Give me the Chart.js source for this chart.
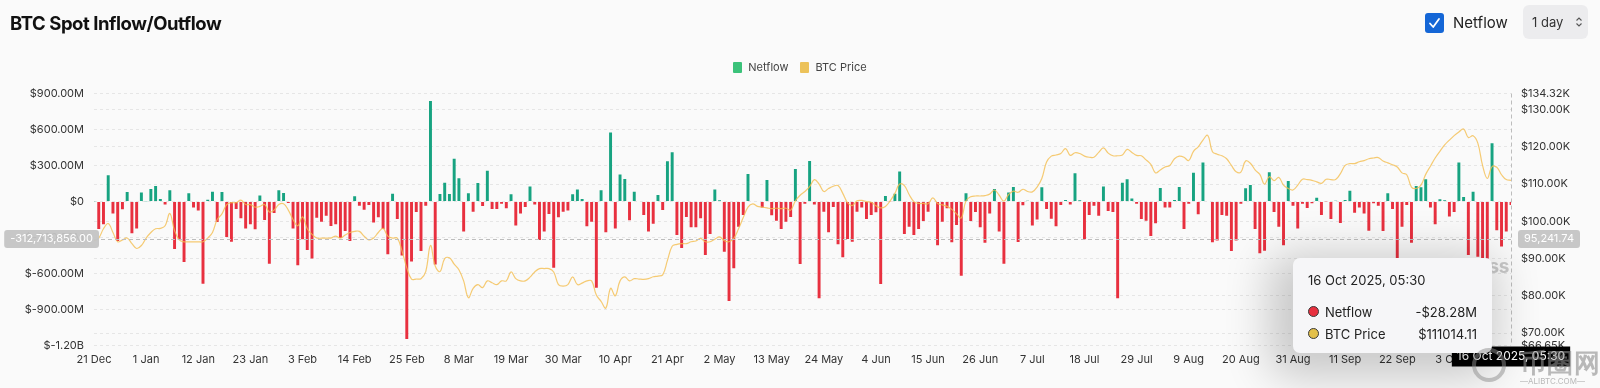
<!DOCTYPE html>
<html><head><meta charset="utf-8">
<script src="https://cdn.jsdelivr.net/npm/chart.js@4.4.1/dist/chart.umd.min.js"></script>
<style>
html,body{margin:0;padding:0;background:#fafafa;width:1600px;height:388px;overflow:hidden;font-family:Inter,"Noto Sans",sans-serif;}
#wrap{position:relative;width:1600px;height:388px;}
#c{position:absolute;left:0;top:0;}
.title{position:absolute;left:10px;top:12px;font-size:18.5px;font-weight:700;color:#111;letter-spacing:-0.45px;}
.chk{position:absolute;left:1425px;top:13px;width:19px;height:20px;background:#1466d6;border-radius:3px;}
.chkl{position:absolute;left:1453px;top:13px;font-size:15px;color:#222;line-height:20px;}
.sel{position:absolute;left:1523px;top:5px;width:65px;height:34px;background:#ececee;border-radius:6px;font-size:13px;color:#333;}
.sel span{position:absolute;left:9px;top:9px;}
.sel svg{position:absolute;left:52px;top:11px;}
.legend{position:absolute;top:60px;left:0;width:1600px;text-align:center;font-size:11px;color:#444;}
.legend .it{display:inline-flex;align-items:center;margin:0 6px;}
.legend .sw{display:inline-block;width:9px;height:11px;border-radius:1px;margin-right:6px;}
.wm{position:absolute;left:1424px;top:255px;font-size:19px;font-weight:700;color:#c9c9c9;letter-spacing:-0.5px;}
.tip{position:absolute;display:none;width:199px;height:95px;box-sizing:border-box;background:#f6f6f8;border-radius:7px;
 box-shadow:-10px 10px 45px 14px rgba(0,0,0,0.20);padding:14px 15px 0 15px;color:#222;}
.tip .t{font-size:13px;margin-bottom:13px;}
.tip .r{display:flex;align-items:center;font-size:13px;height:22px;}
.tip .d{width:9px;height:9px;border-radius:50%;border:1.5px solid #3a3a3a;margin-right:6px;}
.tip .v{margin-left:auto;}
.ali{position:absolute;left:1468px;top:346px;color:rgba(140,140,140,0.6);}
.ali .big{font-size:26px;font-weight:700;position:absolute;left:52px;top:0;white-space:nowrap;letter-spacing:1px;}
.ali .small{font-size:8px;position:absolute;left:52px;top:30px;white-space:nowrap;}
.ali .ring{position:absolute;left:4px;top:2px;width:34px;height:34px;border-radius:50%;border:4px solid rgba(140,140,140,0.5);box-sizing:border-box;}
</style></head>
<body><div id="wrap">
<canvas id="c" width="1600" height="388"></canvas>
<div class="title">BTC Spot Inflow/Outflow</div>
<div class="chk"><svg width="19" height="20" viewBox="0 0 19 20"><path d="M5 10.5 L8.2 14 L14 6" stroke="#fff" stroke-width="1.8" fill="none" stroke-linecap="round" stroke-linejoin="round"/></svg></div>
<div class="chkl">Netflow</div>
<div class="sel"><span>1 day</span><svg width="8" height="12" viewBox="0 0 8 12"><path d="M1.5 4.5 L4 2 L6.5 4.5 M1.5 7.5 L4 10 L6.5 7.5" stroke="#555" stroke-width="1.1" fill="none"/></svg></div>
<div class="legend"><span class="it"><span class="sw" style="background:#3bc27a"></span>Netflow</span><span class="it"><span class="sw" style="background:#ecc25a"></span>BTC Price</span></div>
<div class="wm">coinglass</div>
<div class="tip" id="tip"></div>
<div class="ali"><div class="ring"></div><div class="big">币圈网</div><div class="small">—ALIBTC.COM—</div></div>
</div>
<script>
// Daily BTC spot netflow (millions USD), 21 Dec 2024 .. 16 Oct 2025
const netflowM = [
3,-229,-190,218,-99,-329,-65,79,-265,-224,
76,3,104,129,21,-24,93,-396,-321,-504,
68,-49,-74,-686,15,82,-171,79,-296,-335,
-63,-140,-226,-190,-232,49,-154,-518,-96,93,
71,-12,-224,-532,-315,-404,-474,-135,-168,-118,
-204,-190,-304,-246,-329,43,-35,-68,-29,-174,
-132,-229,-440,65,-146,-451,-1146,-501,-88,-413,
-35,838,-524,63,157,63,357,193,-251,68,
-85,154,-38,257,-63,-63,-18,-57,60,-201,
-99,-46,124,-24,-321,-251,-104,-552,-132,-85,
-76,60,101,21,-207,-168,-718,93,-257,574,
-224,224,188,-157,82,-5,-113,-251,-185,54,
-71,335,410,-279,-388,-129,-215,-215,-140,-446,
-271,101,10,-418,-829,-557,-210,-113,229,-4,
-4,-51,179,-115,-160,-229,-168,-129,271,-521,
-18,338,-24,-807,-85,-257,-46,-357,-465,-313,
-335,-85,-51,-146,-113,-90,-688,46,-3,65,
249,-271,-210,-279,-229,-163,-85,-5,-365,-168,
-57,-340,-196,-618,68,-163,-88,-215,-343,-99,
104,-251,-518,74,121,-338,-32,7,-201,-151,
118,-63,-143,-207,-29,12,-24,235,10,-315,
-113,-35,-118,124,-79,-88,-807,157,185,24,
-18,-146,-160,-288,-182,113,-51,-51,12,121,
-229,-18,240,-107,324,4,-340,-324,-113,-118,
-413,-326,-18,110,138,-229,-432,-410,243,-88,
-210,-365,171,-35,-226,-18,-54,-15,32,-113,
-3,-146,7,-179,12,90,-93,-51,-99,-243,
-15,-35,-246,68,-63,-480,-210,-29,-343,129,
118,185,-51,-190,18,10,-126,-88,324,38,
-446,82,-460,-488,-474,485,-240,-376,-251,-28.28
];
// BTC price (thousands USD)
const priceK = [
94.8,95.5,98,99.4,97,94.5,95,95.5,94,92.7,
93.5,95.5,97,98,98.1,98.8,102.1,97.5,95,94.5,
94.5,94.5,94.5,94.5,95.5,97,100.5,102,104.5,105,
105,105.7,104.5,104.5,103.8,104,104.5,102.5,103,104.5,
104.7,103,100.5,98.8,101.2,98,96.5,95.5,95.5,95.5,
95.5,96,95.5,96.3,97,97.3,97.3,96,95,95.5,
97,98.1,96,95.5,95.5,92,87.5,84.5,84.5,84.6,
86.5,93.5,88,86.5,90,90.2,88.5,87,84,79.5,
82,83,82.2,84,83.5,83,84,84,86.4,84.6,
84,84,85,86.4,87.3,87.3,87.3,86.4,83,82.6,
83,85.1,83,83.4,84,84,80.2,78.5,76.7,82,
80,84,85.1,84,84.6,84.5,84.4,84.6,85.1,85.3,
85.6,89.5,93.3,93.8,94,94,94.5,94.7,95.4,94.5,
94.5,95.2,95.8,94.8,94.5,95.4,98,101,103.8,104.7,
104,103.8,103.6,103.4,103.5,103.4,103.5,103,105.5,107,
108,109.3,111.2,110,108,108.8,109.4,109.6,107.5,105,
104.2,105.5,105.6,105.3,105.1,104.2,103.6,104,105.5,107.5,
110,109.6,107.2,105.3,104.8,104.8,104.7,106.3,104.8,104.4,
104,103.2,102,100.9,105.5,106.6,106.8,106.8,106.9,107.3,
108.4,107,105.4,107.2,108.1,107.8,108.6,108,107.9,109.2,
111.5,115.9,117.5,117.8,118.2,119.5,117.7,118.4,118.2,117.5,
117.2,117.2,118.5,119.7,118.3,117.6,117.6,117.8,119.3,118.5,
117.7,117.6,116.5,115.3,113,113.8,114.6,115,116.8,117.5,
117.2,116.3,118.8,120,121.8,123.1,118.7,118,117.6,116.8,
115,113.3,113.2,116.2,115.6,113.8,112.6,110,112,110.9,
111.8,109.7,108.8,108.4,109.7,111.3,111.2,111,110.6,110.2,
111.3,111.2,111.2,112.8,115,115.5,115.5,116,116.3,116.8,
117,117.1,116.2,115.7,115.2,114.6,113,112.5,109.2,108.8,
109.7,112.6,114.8,117,118.8,120.5,121.8,123,124,124.8,
122.5,123,121,115,111.5,114.7,114.5,112.5,111.2,111.01411
];
const leftTicks = [-1.2e9,-9e8,-6e8,-3e8,0,3e8,6e8,9e8];
const rightTicks = [66650,70000,80000,90000,100000,110000,120000,130000,134320];
const crosshairValue = -312713856;
const monthNames = ['Jan','Feb','Mar','Apr','May','Jun','Jul','Aug','Sep','Oct','Nov','Dec'];

// categories: one per day starting 21 Dec 2024
const dates = [];
const categories = [];
{ const d = new Date(Date.UTC(2024,11,21));
  for (let i=0;i<netflowM.length;i++){ dates.push(new Date(d)); categories.push(d.getUTCDate()+' '+monthNames[d.getUTCMonth()]); d.setUTCDate(d.getUTCDate()+1); } }
const fullLabel = i => { const d=dates[i]; return d.getUTCDate()+' '+monthNames[d.getUTCMonth()]+' '+d.getUTCFullYear()+', 05:30'; };

const GREEN='#17a381', RED='#e8303f', GOLD='rgba(244,190,80,0.8)';
const FONT='Inter';
const fmtLeft = v => v===0 ? '$0' : (Math.abs(v)>=1e9 ? '$'+(v/1e9).toFixed(2)+'B' : '$'+(v/1e6).toFixed(2)+'M');
const fmtRight = v => '$'+(v/1000).toFixed(2)+'K';

const crosshair = {
  id:'crosshair',
  afterDraw(chart){
    const {ctx, chartArea:a, scales} = chart;
    const y = scales.y.getPixelForValue(crosshairValue);
    const last = netflowM.length-1;
    const x = scales.x.getPixelForValue(last);
    ctx.save();
    ctx.strokeStyle='#bdbdbd'; ctx.lineWidth=1; ctx.setLineDash([4,3]);
    ctx.beginPath(); ctx.moveTo(a.left,Math.round(y)+0.5); ctx.lineTo(a.right,Math.round(y)+0.5); ctx.stroke();
    ctx.beginPath(); ctx.moveTo(Math.round(x)+0.5,a.top); ctx.lineTo(Math.round(x)+0.5,a.bottom); ctx.stroke();
    ctx.setLineDash([]);
    ctx.font='11px '+FONT; ctx.textBaseline='middle';
    const lt = crosshairValue.toLocaleString('en-US',{minimumFractionDigits:2,maximumFractionDigits:2});
    let w = ctx.measureText(lt).width+12;
    ctx.fillStyle='rgba(196,196,196,0.95)';
    roundRect(ctx, a.left+5-w, y-9, w, 18, 3); ctx.fill();
    ctx.fillStyle='#fff'; ctx.textAlign='right'; ctx.fillText(lt, a.left-1, y);
    const rv = scales.y1.getValueForPixel(y);
    const rt = rv.toLocaleString('en-US',{minimumFractionDigits:2,maximumFractionDigits:2});
    w = ctx.measureText(rt).width+12;
    ctx.fillStyle='rgba(196,196,196,0.95)';
    roundRect(ctx, a.right+7, y-9, w, 18, 3); ctx.fill();
    ctx.fillStyle='#fff'; ctx.textAlign='left'; ctx.fillText(rt, a.right+13, y);
    ctx.font='12px '+FONT;
    const bt = fullLabel(last);
    w = ctx.measureText(bt).width+10;
    ctx.fillStyle='#000';
    ctx.fillRect(x-w/2, a.bottom+1, w, 20);
    ctx.fillStyle='#fff'; ctx.textAlign='center'; ctx.fillText(bt, x, a.bottom+11);
    ctx.restore();
  }
};
function roundRect(ctx,x,y,w,h,r){ctx.beginPath();ctx.moveTo(x+r,y);ctx.arcTo(x+w,y,x+w,y+h,r);ctx.arcTo(x+w,y+h,x,y+h,r);ctx.arcTo(x,y+h,x,y,r);ctx.arcTo(x,y,x+w,y,r);ctx.closePath();}

function externalTip({chart, tooltip}){
  const el = document.getElementById('tip');
  if (!tooltip.dataPoints || !tooltip.dataPoints.length){ el.style.display='none'; return; }
  const i = tooltip.dataPoints[0].dataIndex;
  const nf = netflowM[i]*1e6, pr = priceK[i]*1000;
  const nfTxt = (nf<0?'-$':'$')+(Math.abs(nf)/1e6).toFixed(2)+'M';
  const nfCol = nf<0 ? '#e8303f' : GREEN;
  el.innerHTML = '<div class="t">'+fullLabel(i)+'</div>'+
    '<div class="r"><span class="d" style="background:'+nfCol+'"></span>Netflow<span class="v">'+nfTxt+'</span></div>'+
    '<div class="r"><span class="d" style="background:#e3c04a"></span>BTC Price<span class="v">$'+pr.toFixed(2)+'</span></div>';
  const a = chart.chartArea;
  el.style.display='block';
  el.style.left = (tooltip.caretX - 218)+'px';
  el.style.top = (a.bottom - 88)+'px';
}

const chart = new Chart(document.getElementById('c'), {
  type:'bar',
  data:{
    labels: categories,
    datasets:[
      {label:'Netflow', data: netflowM.map(v=>v*1e6), yAxisID:'y', order:1,
       backgroundColor: c => c.raw>=0 ? GREEN : RED, barPercentage:0.62, categoryPercentage:1},
      {type:'line', label:'BTC Price', data: priceK.map(v=>v*1000), yAxisID:'y1', order:0,
       borderColor: GOLD, borderWidth:1.2, pointRadius:0, tension:0.4, fill:false}
    ]
  },
  options:{
    responsive:false, animation:false, events:[],
    layout:{padding:{top:93.5,left:0,right:0,bottom:0}},
    plugins:{legend:{display:false},
      tooltip:{enabled:false, mode:'index', intersect:false, external: externalTip}},
    scales:{
      x:{type:'category', offset:false, grid:{display:false, drawTicks:false}, border:{display:false},
         ticks:{autoSkip:false, maxRotation:0, minRotation:0, padding:8, color:'#333', font:{family:FONT,size:11},
                callback:(v,i)=> i%11===0 ? categories[i] : ''},
         afterFit:s=>{s.height=42.5;}},
      y:{position:'left', min:-1.2e9, max:9e8,
         afterBuildTicks:s=>{s.ticks = leftTicks.map(v=>({value:v}));},
         grid:{color:'#e6e6e6', drawTicks:false}, border:{display:false, dash:[3,3]},
         ticks:{autoSkip:false, padding:10, color:'#333', font:{family:FONT,size:11}, callback:v=>fmtLeft(v)},
         afterFit:s=>{s.width=94;}},
      y1:{position:'right', min:66650, max:134320,
         afterBuildTicks:s=>{s.ticks = rightTicks.map(v=>({value:v}));},
         grid:{color:'#e6e6e6', drawTicks:false}, border:{display:false, dash:[3,3]},
         ticks:{autoSkip:false, padding:10, color:'#333', font:{family:FONT,size:11}, callback:v=>fmtRight(v)},
         afterFit:s=>{s.width=89;}}
    }
  },
  plugins:[crosshair]
});
const last = netflowM.length-1;
const mx = chart.scales.x.getPixelForValue(last), my = chart.scales.y.getPixelForValue(crosshairValue);
chart.tooltip.setActiveElements([{datasetIndex:0,index:last},{datasetIndex:1,index:last}], {x:mx, y:my});
</script>
</body></html>
